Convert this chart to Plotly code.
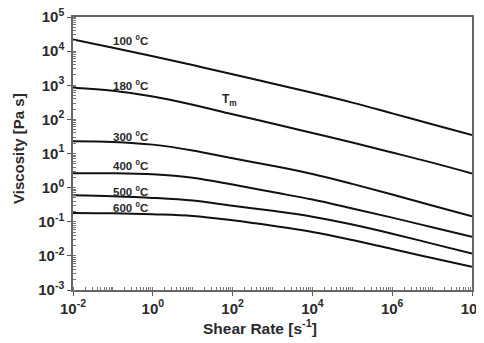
import math
import plotly.graph_objects as go

# Shear rate (s^-1) at each decade
shear_rate = [1e-2, 1e-1, 1e0, 1e1, 1e2, 1e3, 1e4, 1e5, 1e6, 1e7, 1e8]

# Viscosity (Pa s), per temperature
visc_100 = [2.2e4, 1.26e4, 7.1e3, 3.9e3, 2.1e3, 1.12e3, 600, 310, 150, 72, 35]
visc_180 = [850, 690, 470, 270, 141, 76, 40, 21, 10.7, 5.4, 2.6]
visc_300 = [22.9, 21.9, 18.2, 12.3, 7.24, 4.37, 2.51, 1.29, 0.63, 0.30, 0.145]
visc_400 = [2.63, 2.63, 2.45, 1.95, 1.23, 0.74, 0.447, 0.245, 0.132, 0.069, 0.036]
visc_500 = [0.60, 0.56, 0.50, 0.417, 0.295, 0.209, 0.141, 0.083, 0.0447, 0.0229, 0.0117]
visc_600 = [0.182, 0.178, 0.166, 0.148, 0.110, 0.076, 0.050, 0.029, 0.0158, 0.0087, 0.0048]

series = [visc_100, visc_180, visc_300, visc_400, visc_500, visc_600]

# Curve labels (data coordinates)
label_texts = ["100 <sup>0</sup>C", "180 <sup>0</sup>C", "300 <sup>0</sup>C",
               "400 <sup>0</sup>C", "500 <sup>0</sup>C", "600 <sup>0</sup>C"]
label_x = [0.28, 0.28, 0.28, 0.28, 0.28, 0.28]
label_y = [2.15e4, 1.0e3, 32, 4.5, 0.82, 0.275]
tm_text = "T<sub>m</sub>"
tm_x = 85
tm_y = 370

# Tick labels
x_tickvals = [1e-2, 1e0, 1e2, 1e4, 1e6, 1e8]
x_ticktext = ["10<sup>-2</sup>", "10<sup>0</sup>", "10<sup>2</sup>", "10<sup>4</sup>",
              "10<sup>6</sup>", "10<sup>8</sup>"]
y_tickvals = [1e-3, 1e-2, 1e-1, 1e0, 1e1, 1e2, 1e3, 1e4, 1e5]
y_ticktext = ["10<sup>-3</sup>", "10<sup>-2</sup>", "10<sup>-1</sup>", "10<sup>0</sup>",
              "10<sup>1</sup>", "10<sup>2</sup>", "10<sup>3</sup>", "10<sup>4</sup>",
              "10<sup>5</sup>"]
x_title = "Shear Rate [s<sup>-1</sup>]"
y_title = "Viscosity [Pa s]"

FONT = "Arial, Liberation Sans, sans-serif"
TXT = "#2a2a2a"

fig = go.Figure()
for ys in series:
    fig.add_trace(go.Scatter(x=shear_rate, y=ys, mode="lines",
                             line=dict(color="#111111", width=2, shape="spline"),
                             showlegend=False, hoverinfo="skip"))

# annotations on log axes are positioned in log10 units
for t, lx, ly in zip(label_texts, label_x, label_y):
    fig.add_annotation(x=math.log10(lx), y=math.log10(ly), text=t, showarrow=False,
                       xref="x", yref="y",
                       font=dict(family=FONT, size=11.5, color=TXT, weight="bold"))
fig.add_annotation(x=math.log10(tm_x), y=math.log10(tm_y), text=tm_text, showarrow=False,
                   xref="x", yref="y",
                   font=dict(family=FONT, size=12, color=TXT, weight="bold"))

# axis titles
fig.add_annotation(x=0.469, y=-0.135, xref="paper", yref="paper", text=x_title,
                   showarrow=False, xanchor="center", yanchor="middle",
                   font=dict(family=FONT, size=15.5, color=TXT, weight="bold"))
fig.add_annotation(x=-0.138, y=0.52, xref="paper", yref="paper", text=y_title,
                   showarrow=False, xanchor="center", yanchor="middle", textangle=-90,
                   font=dict(family=FONT, size=15, color=TXT, weight="bold"))

axis_common = dict(
    type="log", showgrid=False, zeroline=False, automargin=False,
    showline=True, linecolor="#666666", linewidth=1.5, mirror=True,
    ticks="outside", ticklen=4, tickwidth=1.2, tickcolor="#555555",
    ticklabeloverflow="allow",
    tickfont=dict(family=FONT, size=15, color=TXT, weight="bold"),
)

fig.update_xaxes(**axis_common, range=[-2, 8],
                 tickmode="array", tickvals=x_tickvals, ticktext=x_ticktext,
                 minor=dict(ticks="inside", ticklen=3, tickcolor="#777777", dtick="D1", showgrid=False))
fig.update_yaxes(**axis_common, range=[-3, 5],
                 tickmode="array", tickvals=y_tickvals, ticktext=y_ticktext,
                 minor=dict(ticks="inside", ticklen=3, tickcolor="#777777", dtick="D1", showgrid=False))

# the page body adds an 8px offset; size the figure so the plot area lands where the reference's does
fig.update_layout(
    width=476, height=335,
    margin=dict(l=65, r=12, t=9, b=53),
    plot_bgcolor="white", paper_bgcolor="white",
    showlegend=False,
)

fig.write_html("out.html")
